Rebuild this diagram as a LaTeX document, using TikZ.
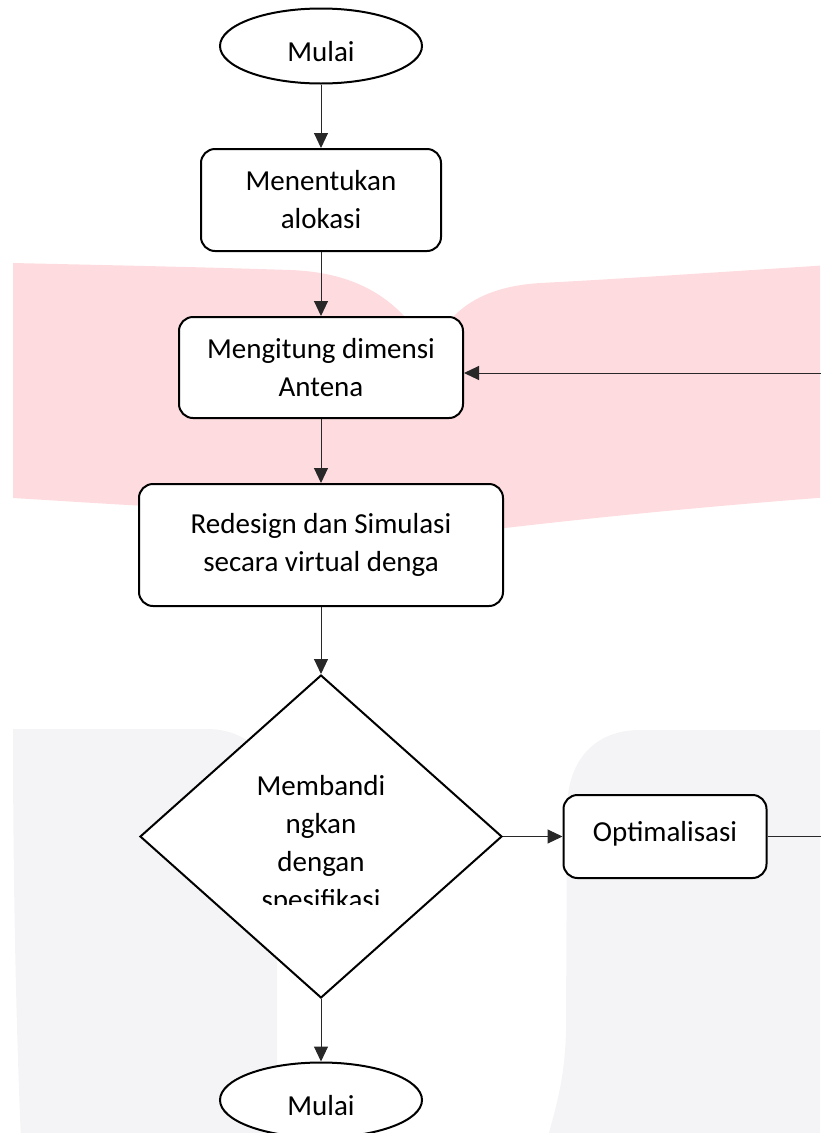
\documentclass[tikz,border=0pt]{standalone}
\usepackage{fontspec}
\setmainfont{Carlito}
\usetikzlibrary{shapes.geometric,arrows.meta}
\definecolor{wmpink}{RGB}{253,219,222}
\definecolor{wmgray}{RGB}{244,244,246}
\definecolor{linec}{RGB}{40,40,40}
\begin{document}
\begin{tikzpicture}[x=1pt,y=-1pt,
  every node/.style={font=\fontsize{29}{38}\selectfont, inner sep=0pt},
  proc/.style={draw, line width=2pt, rounded corners=14pt, align=center, fill=white},
  term/.style={draw, ellipse, line width=2pt, fill=white, minimum width=202pt, minimum height=75pt, text height=30pt, text depth=0pt},
  decision/.style={draw, diamond, line width=2pt, fill=white},
  conn/.style={line width=1pt, draw=linec, -{Triangle[length=15pt,width=14pt]}}]
\useasboundingbox (0,0) rectangle (820,1133);
% watermark background
\begin{scope}
\clip (0,0) rectangle (820,1133);
\fill[wmpink] (13,263) -- (13,498) .. controls (80,502) and (150,507) .. (200,508)
  -- (430,515) -- (430,330) -- (405,317) .. controls (380,290) and (345,272) .. (290,270)
  .. controls (200,267) and (100,265) .. (13,263) -- cycle;
\fill[wmpink] (440,330) -- (457,313) .. controls (480,292) and (510,285) .. (540,283)
  .. controls (620,279) and (720,272) .. (830,265) -- (830,497)
  .. controls (700,507) and (600,517) .. (505,528) -- (420,528) -- (420,330) -- cycle;
\fill[wmgray] (13,729) -- (207,729) .. controls (250,729) and (277,760) .. (277,800)
  -- (277,1140) -- (21,1140) .. controls (15,1000) and (13,850) .. (13,729) -- cycle;
\fill[wmgray] (830,730) -- (640,730) .. controls (595,730) and (567,760) .. (567,810)
  -- (566,1030) .. controls (565,1080) and (555,1110) .. (547,1140) -- (830,1140) -- cycle;
\end{scope}
% nodes
\node[term] (start) at (321,46) {Mulai};
\node[proc, minimum width=240pt, minimum height=102pt] (alloc) at (321,200) {Menentukan\\alokasi};
\node[proc, minimum width=284pt, minimum height=101pt] (dim) at (321,367.5) {Mengitung dimensi\\Antena};
\node[proc, minimum width=364pt, minimum height=122pt] (sim) at (321,545) {Redesign dan Simulasi\\secara virtual denga};
\node[decision, minimum width=362pt, minimum height=323pt] (cmp) at (321,836.5) {};
\begin{scope}
\clip (140,770) rectangle (503,904);
\node[align=center] (cmptext) at (321,844.5) {Membandi\\ngkan\\dengan\\spesifikasi};
\end{scope}
\node[proc, minimum width=203pt, minimum height=83pt, text height=16pt, text depth=6pt] (opt) at (665,836.5) {Optimalisasi};
\node[term] (stop) at (321,1100) {Mulai};
\coordinate (loopR) at (850,373);
% connectors
\draw[conn] (start) -- (alloc);
\draw[conn] (alloc) -- (dim);
\draw[conn] (dim) -- (sim);
\draw[conn] (sim) -- (cmp);
\draw[conn] (cmp) -- (stop);
\draw[conn] (cmp.east) -- (opt.west);
\draw[conn] (opt.east) -| (loopR) -- (dim.east |- loopR);
\end{tikzpicture}
\end{document}
